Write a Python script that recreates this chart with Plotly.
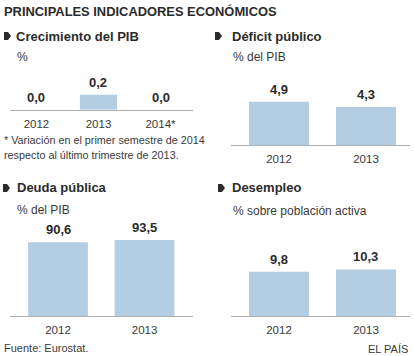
import plotly.graph_objects as go

W, H = 414, 356

# ---- data ----
pib_years = ["2012", "2013", "2014*"]
pib_values = [0.0, 0.2, 0.0]
deficit_years = ["2012", "2013"]
deficit_values = [4.9, 4.3]
deuda_years = ["2012", "2013"]
deuda_values = [90.6, 93.5]
paro_years = ["2012", "2013"]
paro_values = [9.8, 10.3]

title_text = "PRINCIPALES INDICADORES ECONÓMICOS"
panel_titles = ["Crecimiento del PIB", "Déficit público", "Deuda pública", "Desempleo"]
panel_units = ["%", "% del PIB", "% del PIB", "% sobre población activa"]
footnote_lines = ["* Variación en el primer semestre de 2014",
                  "respecto al último trimestre de 2013."]
source_text = "Fuente: Eurostat."
brand_text = "EL PAÍS"

BAR = "#b3cde2"
AXIS = "#b0b0b0"
DARK = "#2b2b2b"
TXT = "#3a3a3a"
FONT = "Liberation Sans, Arial, sans-serif"


def fx(x):
    return x / W


def fy(y):
    return 1 - y / H


def fmt(v):
    return f"{v:.1f}".replace(".", ",")


# panel geometry (pixels): x domain, baseline y, top y, y range max, x range, bar width
panels = [
    dict(years=pib_years, vals=pib_values, xd=(10, 193), base=109.7, top=70, ymax=0.529,
         xr=(-0.427, 2.524), bw=0.6),
    dict(years=deficit_years, vals=deficit_values, xd=(231, 410), base=145, top=75, ymax=7.92,
         xr=(-0.552, 1.506), bw=0.69),
    dict(years=deuda_years, vals=deuda_values, xd=(10, 193), base=316, top=220, ymax=118.0,
         xr=(-0.555, 1.56), bw=0.69),
    dict(years=paro_years, vals=paro_values, xd=(231, 410), base=316, top=240, ymax=16.8,
         xr=(-0.552, 1.506), bw=0.69),
]

fig = go.Figure()
layout = dict(
    width=W, height=H, margin=dict(l=0, r=0, t=0, b=0),
    paper_bgcolor="white", plot_bgcolor="white", showlegend=False,
    font=dict(family=FONT, color=TXT),
)
annotations = []
shapes = []

for i, p in enumerate(panels):
    n = "" if i == 0 else str(i + 1)
    xa, ya = "x" + n, "y" + n
    fig.add_trace(go.Bar(
        x=p["years"], y=p["vals"], xaxis=xa, yaxis=ya,
        marker=dict(color=BAR, line=dict(width=0)), width=p["bw"],
        hoverinfo="skip",
    ))
    layout["xaxis" + n] = dict(
        domain=[fx(p["xd"][0]), fx(p["xd"][1])], anchor=ya, type="category",
        range=list(p["xr"]), showgrid=False, zeroline=False,
        showline=True, linecolor=AXIS, linewidth=1,
        ticks="outside", ticklen=3, tickcolor="rgba(0,0,0,0)",
        tickfont=dict(family=FONT, size=11.5, color=TXT), fixedrange=True,
    )
    layout["yaxis" + n] = dict(
        domain=[fy(p["base"]), fy(p["top"])], anchor=xa, range=[0, p["ymax"]],
        showgrid=False, zeroline=False, showline=False, showticklabels=False,
        fixedrange=True,
    )
    for j, v in enumerate(p["vals"]):
        annotations.append(dict(
            x=j, y=v, xref=xa, yref=ya, text=fmt(v), showarrow=False,
            yanchor="bottom", yshift=3,
            font=dict(family=FONT, size=13, color=DARK, weight="bold"),
        ))

# titles / headings
annotations.append(dict(x=fx(2), y=fy(11), xref="paper", yref="paper", text=title_text,
                        showarrow=False, xanchor="left", yanchor="middle",
                        font=dict(family=FONT, size=12.9, color=DARK, weight="bold")))

head_pos = [(14, 36, 4), (230, 36, 215), (15, 188, 3), (230, 188, 218)]
unit_pos = [(15, 57), (231, 57), (15, 210), (231, 211)]
for t, (hx, hy, mx), u, (ux, uy) in zip(panel_titles, head_pos, panel_units, unit_pos):
    annotations.append(dict(x=fx(hx), y=fy(hy), xref="paper", yref="paper", text=t,
                            showarrow=False, xanchor="left", yanchor="middle",
                            font=dict(family=FONT, size=13, color=DARK, weight="bold")))
    annotations.append(dict(x=fx(ux), y=fy(uy), xref="paper", yref="paper", text=u,
                            showarrow=False, xanchor="left", yanchor="middle",
                            font=dict(family=FONT, size=12, color=TXT)))
    # bullet marker
    path = (f"M {fx(mx)},{fy(hy - 4)} L {fx(mx + 4)},{fy(hy - 4)} L {fx(mx + 7)},{fy(hy)} "
            f"L {fx(mx + 4)},{fy(hy + 4)} L {fx(mx)},{fy(hy + 4)} Z")
    shapes.append(dict(type="path", xref="paper", yref="paper", path=path,
                       fillcolor=DARK, line=dict(width=0)))

for line, ly in zip(footnote_lines, [140, 155]):
    annotations.append(dict(x=fx(2), y=fy(ly), xref="paper", yref="paper", text=line,
                            showarrow=False, xanchor="left", yanchor="middle",
                            font=dict(family=FONT, size=10.8, color=TXT)))

annotations.append(dict(x=fx(2), y=fy(348), xref="paper", yref="paper", text=source_text,
                        showarrow=False, xanchor="left", yanchor="middle",
                        font=dict(family=FONT, size=11, color=TXT)))
annotations.append(dict(x=fx(410), y=fy(349), xref="paper", yref="paper", text=brand_text,
                        showarrow=False, xanchor="right", yanchor="middle",
                        font=dict(family=FONT, size=11, color=TXT)))

layout["annotations"] = annotations
layout["shapes"] = shapes
fig.update_layout(**layout)
fig.write_html("out.html", config={"displayModeBar": False})

# remove the browser's default page margin so the figure fills the window exactly
with open("out.html", encoding="utf-8") as f:
    html = f.read()
html = html.replace("<head>", "<head><style>html,body{margin:0;padding:0;overflow:hidden;}</style>", 1)
with open("out.html", "w", encoding="utf-8") as f:
    f.write(html)
